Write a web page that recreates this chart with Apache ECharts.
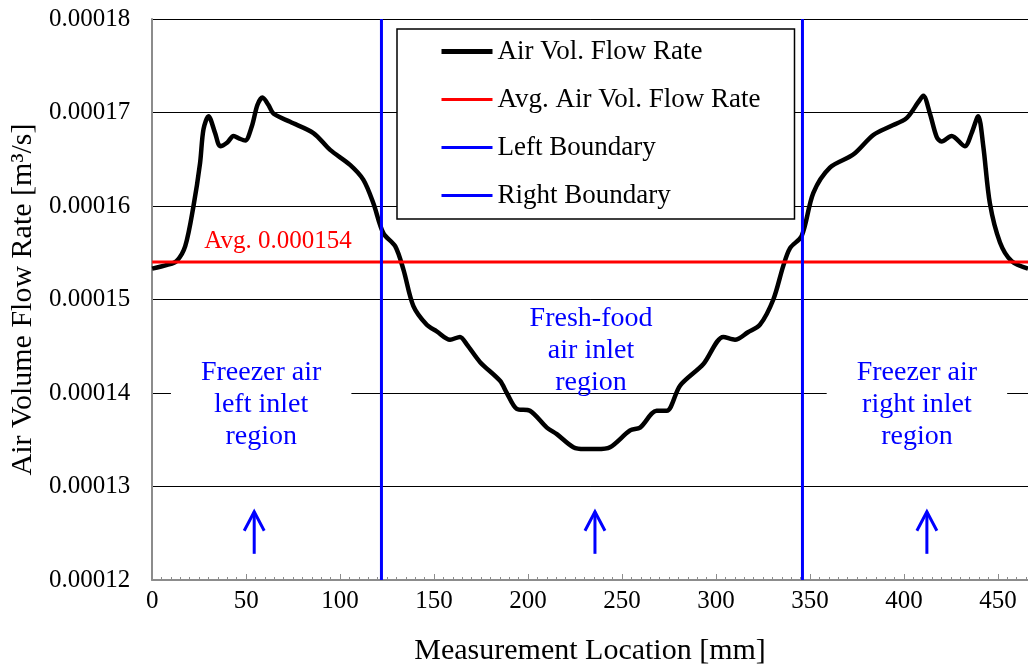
<!DOCTYPE html>
<html>
<head>
<meta charset="utf-8">
<script src="https://cdn.jsdelivr.net/npm/echarts@6/dist/echarts.min.js"></script>
<style>
html,body{margin:0;padding:0;background:#fff;}
#chart{width:1028px;height:671px;}
</style>
</head>
<body>
<div id="chart"></div>
<script>
// Measurement location [mm]
var locations = [0, 8, 13, 17.6, 22, 25.5, 27.3, 30, 33.5, 36.2, 40, 43.3, 46.5, 49.5, 53, 56, 58.7, 61.9, 64.5, 73.4, 85.8, 94.7, 105.3, 112.4, 117.7, 123, 129.3, 133.7, 139, 146.1, 151.4, 158.5, 163.8, 167.4, 174.5, 185.1, 188.7, 194, 201, 210, 215.3, 224.1, 230, 236.5, 243.6, 254.3, 259.6, 268.4, 273.8, 280.9, 293.3, 303.9, 310.1, 317, 323.4, 330.5, 335.8, 339.4, 345.6, 351.8, 360.6, 373, 383.7, 392.6, 401.4, 407.6, 410.3, 413.8, 417.4, 420, 425.4, 432.4, 436, 439.5, 442.2, 445.7, 451.1, 457.3, 466];
// Air volume flow rate [m3/s]
var flowRates = [0.0001533, 0.0001537, 0.0001541, 0.0001557, 0.0001600, 0.0001646, 0.0001682, 0.0001696, 0.0001678, 0.0001664, 0.0001668, 0.0001675, 0.0001672, 0.0001670, 0.0001685, 0.0001708, 0.0001716, 0.0001708, 0.0001699, 0.0001690, 0.0001678, 0.0001660, 0.0001644, 0.0001628, 0.0001603, 0.0001571, 0.0001557, 0.0001532, 0.0001493, 0.0001473, 0.0001466, 0.0001457, 0.0001460, 0.0001452, 0.0001433, 0.0001413, 0.0001400, 0.0001383, 0.0001381, 0.0001363, 0.0001356, 0.0001342, 0.0001340, 0.0001340, 0.0001342, 0.0001360, 0.0001363, 0.0001381, 0.0001381, 0.0001408, 0.0001431, 0.0001460, 0.0001457, 0.0001465, 0.0001473, 0.0001500, 0.0001536, 0.0001555, 0.0001568, 0.0001614, 0.0001641, 0.0001655, 0.0001676, 0.0001685, 0.0001694, 0.0001711, 0.0001718, 0.0001699, 0.0001674, 0.0001669, 0.0001675, 0.0001664, 0.0001678, 0.0001696, 0.0001664, 0.0001603, 0.0001561, 0.0001541, 0.0001533];
var avgFlowRate = 0.000154;
var leftBoundary = 122;
var rightBoundary = 346;
var xRange = [0, 466];
var yRange = [0.00012, 0.00018];
var seriesNames = ['Air Vol. Flow Rate', 'Avg. Air Vol. Flow Rate', 'Left Boundary', 'Right Boundary'];
var avgLabel = 'Avg. 0.000154';
var regionLabels = ['Freezer air\nleft inlet\nregion', 'Fresh-food\nair inlet\nregion', 'Freezer air\nright inlet\nregion'];
var regionLabelPos = [[58, 0.0001388], [233.5, 0.0001445], [406.9, 0.0001388]];
var arrowX = [54.3, 235.6, 412.2];
var arrowY = [0.0001228, 0.0001273];
var avgLabelPos = [67, 0.0001562];

var FONT = "'Liberation Serif', 'Times New Roman', serif";
var curve = locations.map(function (x, i) { return [x, flowRates[i]]; });
var legendWidths = [5, 3, 3, 3];

var chart = echarts.init(document.getElementById('chart'), null, {renderer: 'canvas'});
chart.setOption({
  animation: false,
  backgroundColor: '#fff',
  textStyle: {fontFamily: FONT},
  grid: {left: 152, right: 0, top: 19, bottom: 90},
  legend: {
    orient: 'vertical',
    left: 397, top: 29,
    padding: [9, 34, 10, 42],
    itemWidth: 51, itemHeight: 14, itemGap: 21,
    backgroundColor: '#fff',
    borderColor: '#000', borderWidth: 1.5, borderRadius: 0,
    itemStyle: {opacity: 0},
    textStyle: {fontFamily: FONT, fontSize: 27, color: '#000', lineHeight: 27},
    data: seriesNames.map(function (n, i) { return {name: n, lineStyle: {width: legendWidths[i]}}; })
  },
  xAxis: {
    type: 'value',
    min: xRange[0], max: xRange[1], interval: 50,
    name: 'Measurement Location [mm]',
    nameLocation: 'middle', nameGap: 56,
    nameTextStyle: {fontFamily: FONT, fontSize: 30, color: '#000'},
    axisLine: {show: true, onZero: false, lineStyle: {color: '#8c8c8c', width: 2}},
    axisTick: {show: true, inside: true, length: 6, lineStyle: {color: '#8c8c8c', width: 1}},
    minorTick: {show: true, splitNumber: 10, length: 3, lineStyle: {color: '#8c8c8c', width: 1}},
    axisLabel: {fontFamily: FONT, fontSize: 25, color: '#000', margin: 9, showMaxLabel: false,
      formatter: function (v) { return v % 50 === 0 ? String(v) : ''; }},
    splitLine: {show: false}
  },
  yAxis: {
    type: 'value',
    min: yRange[0], max: yRange[1], interval: 0.00001,
    name: 'Air Volume Flow Rate [m³/s]',
    nameLocation: 'middle', nameGap: 110,
    nameTextStyle: {fontFamily: FONT, fontSize: 30, color: '#000'},
    axisLine: {show: true, onZero: false, lineStyle: {color: '#8c8c8c', width: 2}},
    axisTick: {show: false},
    axisLabel: {fontFamily: FONT, fontSize: 25, color: '#000', margin: 22,
      formatter: function (v) { return v.toFixed(5); }},
    splitLine: {show: true, lineStyle: {color: '#000', width: 1}}
  },
  series: [
    {
      name: seriesNames[0], type: 'line', data: curve, smooth: 0.3,
      showSymbol: false, symbol: 'none',
      lineStyle: {color: '#000', width: 4.5}, itemStyle: {color: '#000'}, z: 3
    },
    {
      name: seriesNames[1], type: 'line', data: [[xRange[0], avgFlowRate], [xRange[1], avgFlowRate]],
      showSymbol: false, symbol: 'none',
      lineStyle: {color: '#ff0000', width: 3}, itemStyle: {color: '#ff0000'}, z: 4
    },
    {
      name: seriesNames[2], type: 'line', data: [[leftBoundary, yRange[0]], [leftBoundary, yRange[1]]],
      showSymbol: false, symbol: 'none',
      lineStyle: {color: '#0000ff', width: 3}, itemStyle: {color: '#0000ff'}, z: 5
    },
    {
      name: seriesNames[3], type: 'line', data: [[rightBoundary, yRange[0]], [rightBoundary, yRange[1]]],
      showSymbol: false, symbol: 'none',
      lineStyle: {color: '#0000ff', width: 3}, itemStyle: {color: '#0000ff'}, z: 5
    }
  ]
});

function px(p) { return chart.convertToPixel({gridIndex: 0}, p); }
var graphics = [];
regionLabels.forEach(function (t, i) {
  var p = px(regionLabelPos[i]);
  graphics.push({
    type: 'text', x: p[0], y: p[1], z: 2,
    style: {
      text: t, fill: '#0000ff', font: '28px ' + FONT,
      align: 'center', verticalAlign: 'middle', lineHeight: 32,
      backgroundColor: i === 1 ? 'transparent' : '#fff',
      padding: i === 1 ? 0 : [0, 30]
    }
  });
});
arrowX.forEach(function (x) {
  var b = px([x, arrowY[0]]), t = px([x, arrowY[1]]);
  graphics.push({type: 'polyline', z: 2, shape: {points: [b, t]}, style: {stroke: '#0000ff', lineWidth: 3, fill: null}});
  graphics.push({type: 'polyline', z: 2, shape: {points: [[t[0] - 10, t[1] + 19], t, [t[0] + 10, t[1] + 19]]}, style: {stroke: '#0000ff', lineWidth: 3, fill: null}});
});
var ap = px(avgLabelPos);
graphics.push({type: 'text', x: ap[0], y: ap[1], z: 6,
  style: {text: avgLabel, fill: '#ff0000', font: '25px ' + FONT, align: 'center', verticalAlign: 'middle'}});
chart.setOption({graphic: graphics});
</script>
</body>
</html>
